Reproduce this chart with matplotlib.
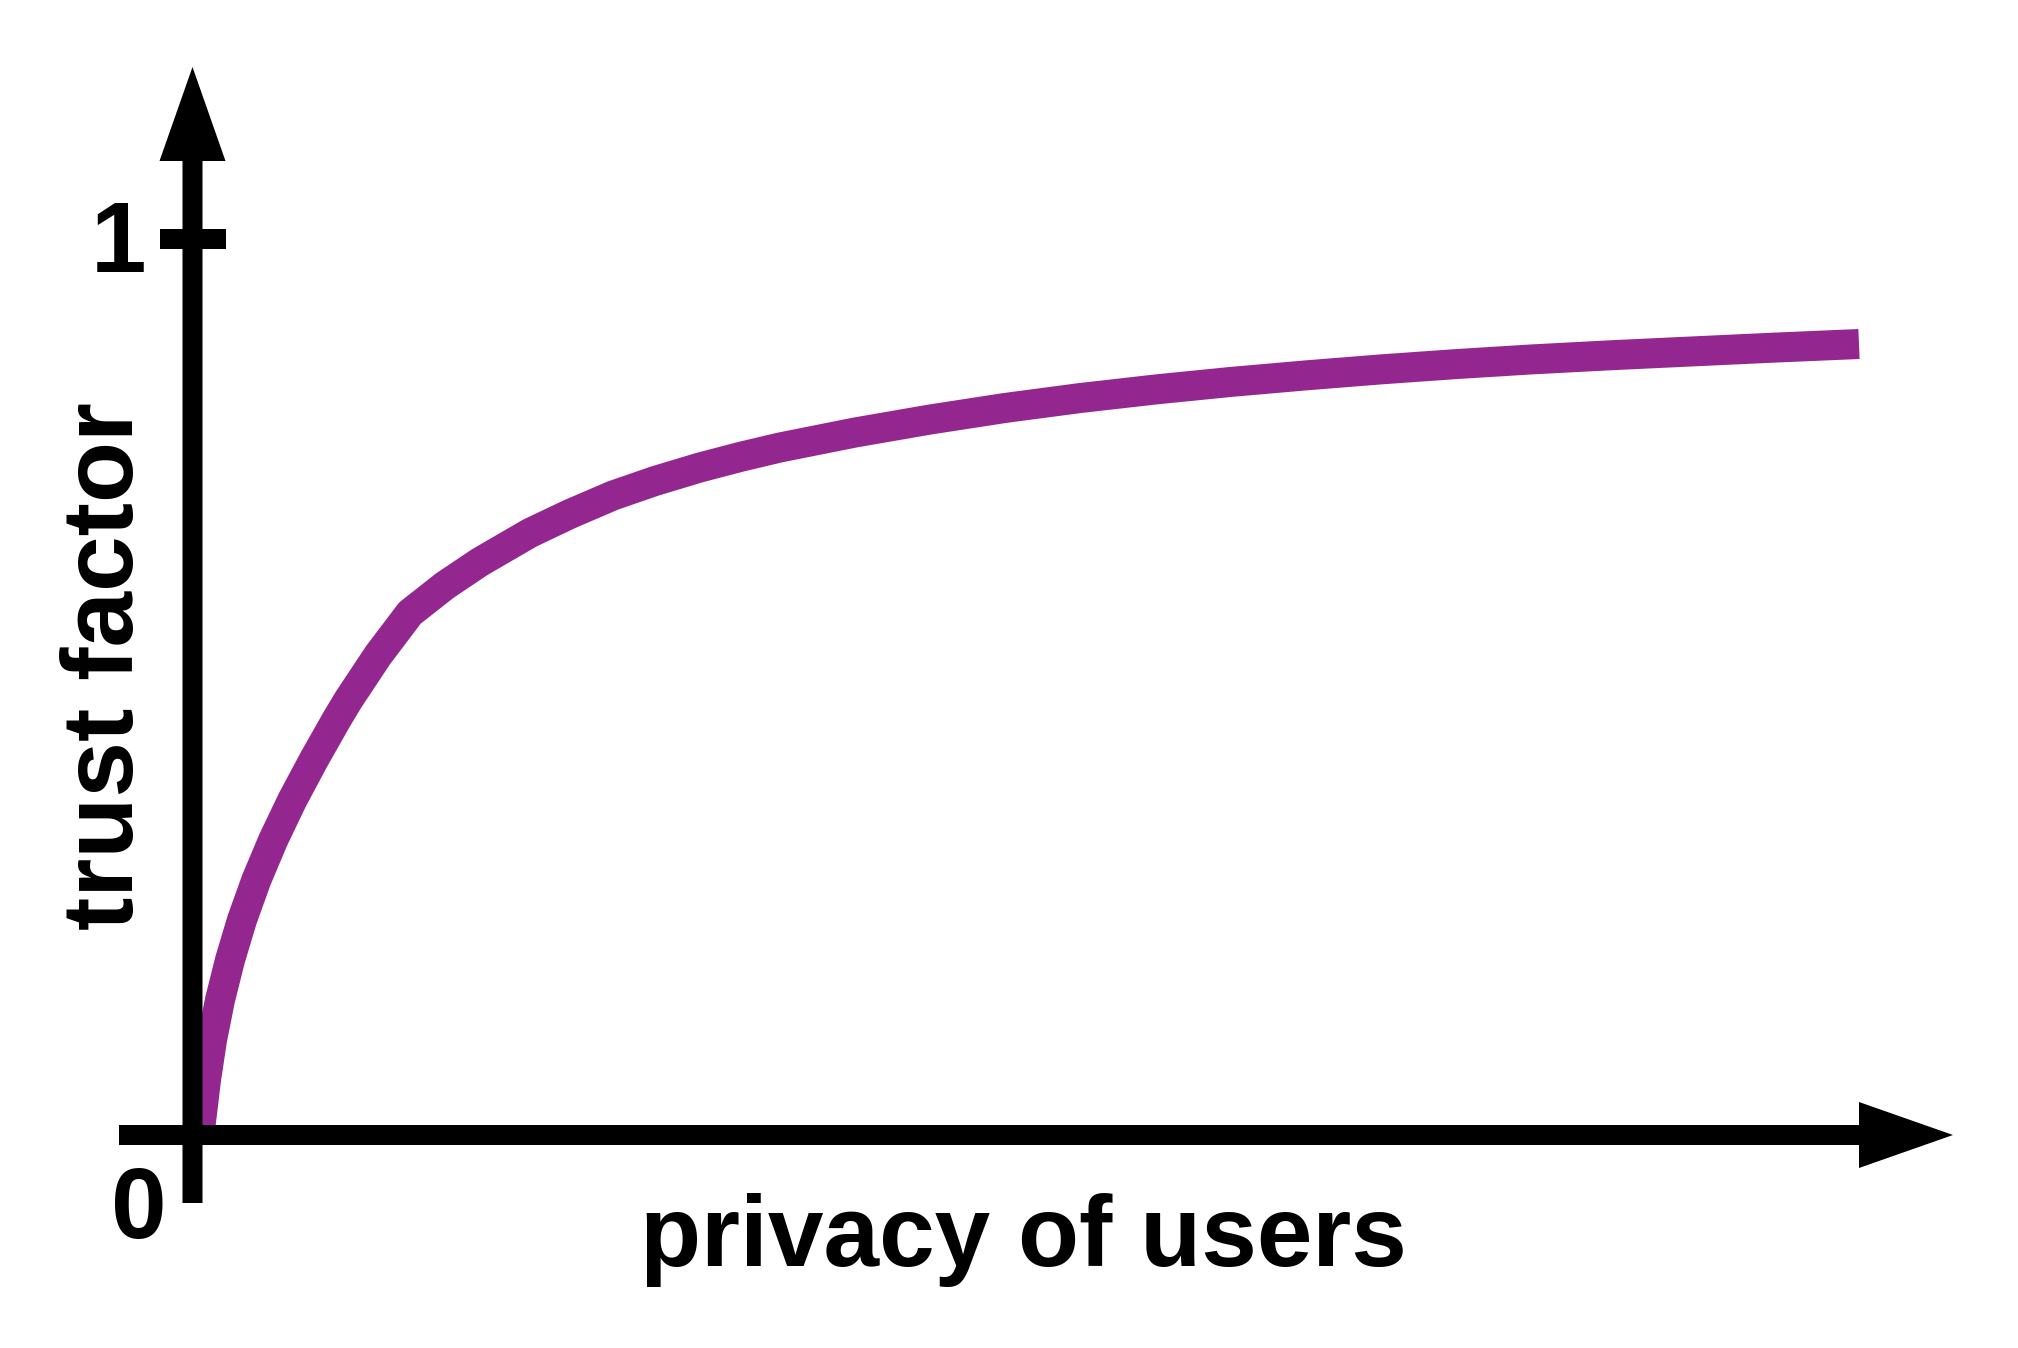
import matplotlib
matplotlib.use("Agg")
import matplotlib.pyplot as plt
from matplotlib import font_manager as fm

# curve (privacy 0..1 along x, trust 0..1 along y)
privacy = [0.0045, 0.0081, 0.0117, 0.0165, 0.0225, 0.0297, 0.0383, 0.0484,
           0.0599, 0.0727, 0.0863, 0.0935, 0.1114, 0.1305, 0.1515, 0.1725,
           0.2025, 0.2265, 0.2523, 0.2775, 0.3045, 0.3285, 0.3525, 0.3975,
           0.4425, 0.4875, 0.5326, 0.5776, 0.6226, 0.6676, 0.7126, 0.7576,
           0.8026, 0.8506, 0.8986, 0.9496, 1.0]
trust = [0.0056, 0.0614, 0.1060, 0.1507, 0.1953, 0.2400, 0.2846, 0.3292,
         0.3739, 0.4185, 0.4632, 0.4855, 0.5357, 0.5826, 0.6133, 0.6395,
         0.6719, 0.6931, 0.7137, 0.7299, 0.7450, 0.7567, 0.7673, 0.7840,
         0.7985, 0.8114, 0.8225, 0.8320, 0.8404, 0.8477, 0.8544, 0.8603,
         0.8655, 0.8702, 0.8744, 0.8788, 0.8828]

y_ticks = [0, 1]
y_tick_labels = ['0', '1']
x_label = 'privacy of users'
y_label = 'trust factor'

fp = fm.FontProperties(family='Liberation Sans', weight='bold', size=72)

W, H = 2018, 1348
fig = plt.figure(figsize=(W / 100, H / 100), dpi=100)
ax = fig.add_axes([0, 0, 1, 1])

# pixel layout of the axes cross
x0_px, x1_px = 192.5, 1859.0   # privacy 0 and 1
y0_px, y1_px = 1135.0, 239.0   # trust 0 and 1 (from top)
sx = x1_px - x0_px
sy = y0_px - y1_px
ax.set_xlim(-x0_px / sx, (W - x0_px) / sx)
ax.set_ylim((y0_px - H) / sy, y0_px / sy)
ax.axis('off')

purple = '#93278F'
ax.plot(privacy, trust, color=purple, lw=21.6, solid_capstyle='butt',
        solid_joinstyle='round', zorder=1)

# axis arrows (20 px shaft, 66 px wide and 94 px long heads)
shaft, head_w, head_l = 20, 66, 94
yb = -68 / sy
ytip = (y0_px - 67) / sy
ax.arrow(0, yb, 0, ytip - yb - head_l / sy, width=shaft / sx,
         head_width=head_w / sx, head_length=head_l / sy,
         length_includes_head=False, color='black', lw=0, zorder=3)
xl = (119 - x0_px) / sx
xtip = (1953 - x0_px) / sx
ax.arrow(xl, 0, xtip - xl - head_l / sx, 0, width=shaft / sy,
         head_width=head_w / sy, head_length=head_l / sx,
         length_includes_head=False, color='black', lw=0, zorder=3)

# tick mark at trust = 1
ax.plot([-33 / sx, 33 / sx], [y_ticks[1], y_ticks[1]], color='black',
        lw=14.4, solid_capstyle='butt', zorder=3)


def label(px, py, s, **kw):
    # place text by figure pixel position (origin top left)
    fig.text(px / W, 1 - py / H, s, fontproperties=fp, **kw)


label(118.5, 272, y_tick_labels[1], ha='center', va='baseline')
label(138.5, 1238, y_tick_labels[0], ha='center', va='baseline')
label(1023, 1266, x_label, ha='center', va='baseline')
label(133, 666, y_label, ha='center', va='baseline', rotation=90,
      rotation_mode='anchor')

fig.savefig('out.png', dpi=100, facecolor='white')
